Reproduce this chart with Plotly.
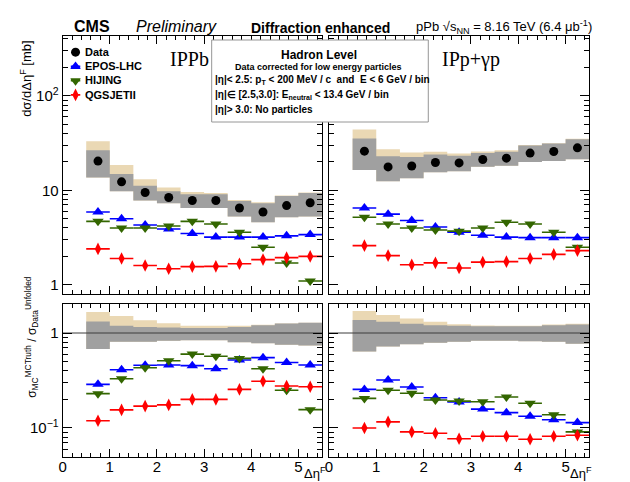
import math
import plotly.graph_objects as go

# ---------------- data ----------------
bin_lo = [0.5, 1.0, 1.5, 2.0, 2.5, 3.0, 3.5, 4.0, 4.5, 5.0]
bin_hi = [1.0, 1.5, 2.0, 2.5, 3.0, 3.5, 4.0, 4.5, 5.0, 5.5]
centers = [0.75, 1.25, 1.75, 2.25, 2.75, 3.25, 3.75, 4.25, 4.75, 5.25]

# IPPb (left)
L_data = [20.4, 12.3, 9.5, 8.4, 7.8, 7.8, 6.5, 5.9, 6.9, 7.4]
L_sys_lo = [13.7, 9.8, 7.8, 7.3, 6.5, 6.5, 5.3, 4.6, 5.2, 5.3]
L_sys_hi = [26.6, 14.9, 11.2, 9.8, 9.1, 9.1, 7.7, 7.3, 8.7, 9.4]
L_tan_hi = [33.0, 18.5, 13.1, 10.7, 9.6, 9.4, 7.9, 7.5, 8.8, 9.5]
L_epos = [5.9, 5.0, 4.3, 3.9, 3.5, 3.2, 3.2, 3.2, 3.3, 3.4]
L_hijing = [4.7, 4.0, 4.0, 4.2, 4.7, 4.4, 3.6, 2.5, 1.7, 1.1]
L_qgs = [2.4, 1.9, 1.6, 1.48, 1.56, 1.57, 1.67, 1.85, 1.94, 2.0]

# IPp+gamma p (right)
R_data = [26.0, 17.7, 18.1, 19.7, 19.5, 21.2, 21.9, 24.8, 25.8, 28.2]
R_sys_lo = [16.4, 12.5, 13.4, 15.5, 15.9, 17.8, 18.2, 20.0, 20.4, 21.4]
R_sys_hi = [35.4, 23.0, 22.6, 24.0, 23.2, 24.8, 25.6, 29.9, 31.3, 34.8]
R_tan_hi = [44.0, 27.3, 25.2, 25.6, 24.6, 25.8, 26.6, 30.2, 31.6, 35.2]
R_epos = [6.5, 5.6, 4.8, 4.1, 3.6, 3.35, 3.2, 3.16, 3.16, 3.16]
R_hijing = [5.2, 4.4, 4.0, 3.8, 3.7, 4.0, 4.6, 4.4, 3.6, 2.5]
R_qgs = [2.6, 2.04, 1.63, 1.71, 1.51, 1.74, 1.76, 1.9, 2.1, 2.3]

# ratios MC / data (left)
LR_sys_lo = [0.68, 0.81, 0.81, 0.83, 0.84, 0.84, 0.80, 0.78, 0.75, 0.74]
LR_sys_hi = [1.32, 1.19, 1.16, 1.14, 1.13, 1.13, 1.16, 1.21, 1.26, 1.28]
LR_tan_hi = [1.66, 1.51, 1.36, 1.27, 1.19, 1.19, 1.19, 1.22, 1.26, 1.28]
LR_epos = [0.288, 0.41, 0.457, 0.46, 0.453, 0.42, 0.52, 0.55, 0.49, 0.46]
LR_hijing = [0.23, 0.33, 0.43, 0.51, 0.60, 0.57, 0.54, 0.42, 0.25, 0.156]
LR_qgs = [0.119, 0.155, 0.17, 0.175, 0.20, 0.20, 0.255, 0.31, 0.277, 0.272]

# ratios MC / data (right)
RR_sys_lo = [0.64, 0.72, 0.76, 0.79, 0.81, 0.83, 0.83, 0.82, 0.81, 0.77]
RR_sys_hi = [1.37, 1.31, 1.25, 1.21, 1.19, 1.18, 1.18, 1.18, 1.21, 1.23]
RR_tan_hi = [1.70, 1.55, 1.42, 1.31, 1.24, 1.20, 1.19, 1.19, 1.23, 1.25]
RR_epos = [0.255, 0.32, 0.27, 0.208, 0.188, 0.158, 0.145, 0.133, 0.122, 0.114]
RR_hijing = [0.205, 0.25, 0.232, 0.197, 0.192, 0.189, 0.212, 0.182, 0.138, 0.091]
RR_qgs = [0.10, 0.116, 0.091, 0.088, 0.077, 0.082, 0.082, 0.076, 0.082, 0.084]

legend_names = ["Data", "EPOS-LHC", "HIJING", "QGSJETII"]

# ---------------- style ----------------
FONT = "Liberation Sans, Arial, Helvetica, sans-serif"
SERIF = "Liberation Serif, Times New Roman, serif"
C_GRAY = "rgb(160,160,160)"
C_TAN = "rgb(234,216,180)"
C_EPOS = "rgb(0,0,255)"
C_HIJ = "rgb(51,102,0)"
C_QGS = "rgb(255,0,0)"

STY = {
    "Data": dict(color="black", symbol="circle", size=9, bar=False),
    "EPOS-LHC": dict(color=C_EPOS, symbol="triangle-up", size=10, bar=True),
    "HIJING": dict(color=C_HIJ, symbol="triangle-down", size=10, bar=True),
    "QGSJETII": dict(color=C_QGS, symbol="diamond-tall", size=9, bar=True),
}

W, H = 630, 482
fig = go.Figure()


def band(lo, hi, color, xa, ya):
    xs, ys = [], []
    for x0, x1, a, b in zip(bin_lo, bin_hi, lo, hi):
        xs += [x0, x1, x1, x0, x0, None]
        ys += [a, a, b, b, a, None]
    fig.add_trace(go.Scatter(x=xs, y=ys, mode="lines", fill="toself",
                             fillcolor=color, line=dict(width=0, color=color),
                             hoverinfo="skip", showlegend=False,
                             xaxis=xa, yaxis=ya))


def series(xv, yv, name, xa, ya, half=0.25):
    s = STY[name]
    kw = {}
    if s["bar"]:
        kw["error_x"] = dict(type="constant", value=half, width=0, thickness=1.6,
                             color=s["color"])
    fig.add_trace(go.Scatter(
        x=xv, y=yv, mode="markers", name=name,
        marker=dict(symbol=s["symbol"], size=s["size"], color=s["color"], line=dict(width=0)),
        showlegend=False, xaxis=xa, yaxis=ya, **kw))


panels = [
    ("x", "y", L_sys_lo, L_sys_hi, L_tan_hi, L_data, L_epos, L_hijing, L_qgs),
    ("x2", "y2", R_sys_lo, R_sys_hi, R_tan_hi, R_data, R_epos, R_hijing, R_qgs),
]
for xa, ya, lo, hi, tan, d, e, hj, q in panels:
    band(lo, tan, C_TAN, xa, ya)
    band(lo, hi, C_GRAY, xa, ya)
    series(centers, d, "Data", xa, ya)
    series(centers, e, "EPOS-LHC", xa, ya)
    series(centers, hj, "HIJING", xa, ya)
    series(centers, q, "QGSJETII", xa, ya)

ratio_panels = [
    ("x3", "y3", LR_sys_lo, LR_sys_hi, LR_tan_hi, LR_epos, LR_hijing, LR_qgs),
    ("x4", "y4", RR_sys_lo, RR_sys_hi, RR_tan_hi, RR_epos, RR_hijing, RR_qgs),
]
for xa, ya, lo, hi, tan, e, hj, q in ratio_panels:
    band(lo, tan, C_TAN, xa, ya)
    band(lo, hi, C_GRAY, xa, ya)
    fig.add_trace(go.Scatter(x=[0, 5.5], y=[1, 1], mode="lines",
                             line=dict(color="rgb(60,60,60)", width=1),
                             hoverinfo="skip", showlegend=False, xaxis=xa, yaxis=ya))
    series(centers, e, "EPOS-LHC", xa, ya)
    series(centers, hj, "HIJING", xa, ya)
    series(centers, q, "QGSJETII", xa, ya)

# manual legend (ROOT-style compact rows) on its own hidden axis
for i, name in enumerate(legend_names):
    series([0.5], [i], name, "x5", "y5", half=0.5)


def px_x(p):
    return p / W


def px_y(p):
    return 1 - p / H


xdom_l = [px_x(59), px_x(320)]
xdom_r = [px_x(327), px_x(589)]
ydom_t = [px_y(294), px_y(36)]
ydom_b = [px_y(457), px_y(304)]

xminor = dict(ticks="inside", dtick=0.2, ticklen=4, tickcolor="black", showgrid=False)


def xaxis(dom, anchor, labels):
    return dict(domain=dom, anchor=anchor, range=[0, 5.5], showgrid=False, zeroline=False,
                showline=True, linecolor="black", linewidth=1, mirror="ticks",
                ticks="inside", ticklen=8, tickcolor="black", dtick=1, tick0=0,
                minor=xminor, showticklabels=labels, ticklabelstandoff=-4,
                tickfont=dict(family=FONT, size=15, color="black"))


top_minor = [v * m for v in [1, 10, 100] for m in range(2, 10)]
bot_minor = [0.05, 0.06, 0.07, 0.08, 0.09, 0.2, 0.3, 0.4, 0.5, 0.6, 0.7, 0.8, 0.9, 2.0]


def yaxis(dom, anchor, rng, tv, tt, minor_vals, labels):
    return dict(domain=dom, anchor=anchor, type="log", range=rng, showgrid=False,
                zeroline=False, showline=True, linecolor="black", linewidth=1,
                mirror="ticks", ticks="inside", ticklen=9, tickcolor="black",
                tickvals=tv, ticktext=tt, showticklabels=labels,
                minor=dict(ticks="inside", tickvals=minor_vals, ticklen=5,
                           tickcolor="black", showgrid=False),
                tickfont=dict(family=FONT, size=15, color="black"))


top_rng = [math.log10(0.8), math.log10(430)]
bot_rng = [math.log10(0.0495), math.log10(2.02)]

hidden = dict(visible=False, showgrid=False, zeroline=False, fixedrange=True)

fig.update_layout(
    width=W, height=H, margin=dict(l=0, r=0, t=0, b=0),
    paper_bgcolor="white", plot_bgcolor="white",
    font=dict(family=FONT, color="black"),
    showlegend=False,
    xaxis=xaxis(xdom_l, "y", False),
    xaxis2=xaxis(xdom_r, "y2", False),
    xaxis3=xaxis(xdom_l, "y3", True),
    xaxis4=xaxis(xdom_r, "y4", True),
    yaxis=yaxis(ydom_t, "x", top_rng, [1, 10, 100], ["1", "10", "10<sup>2</sup>"], top_minor, True),
    yaxis2=yaxis(ydom_t, "x2", top_rng, [1, 10, 100], ["1", "10", "10<sup>2</sup>"], top_minor, False),
    yaxis3=yaxis(ydom_b, "x3", bot_rng, [0.1, 1], ["10<sup>\u22121</sup>", "1"], bot_minor, True),
    yaxis4=yaxis(ydom_b, "x4", bot_rng, [0.1, 1], ["10<sup>\u22121</sup>", "1"], bot_minor, False),
    xaxis5=dict(domain=[px_x(67), px_x(77)], anchor="y5", range=[0, 1], **hidden),
    yaxis5=dict(domain=[px_y(102), px_y(45)], anchor="x5", range=[3.5, -0.5], **hidden),
)

# text box
fig.add_shape(type="rect", xref="paper", yref="paper",
              x0=px_x(209), x1=px_x(427), y0=px_y(122), y1=px_y(40),
              fillcolor="white", line=dict(color="rgb(150,150,150)", width=1), layer="above")


def ann(text, x, y, size, xanchor="left", yanchor="middle", bold=False, italic=False,
        family=FONT, angle=0):
    fig.add_annotation(text=text, x=px_x(x), y=px_y(y), xref="paper", yref="paper",
                       xanchor=xanchor, yanchor=yanchor, showarrow=False, textangle=angle,
                       font=dict(family=family, size=size, color="black",
                                 weight="bold" if bold else "normal",
                                 style="italic" if italic else "normal"))


# legend labels
for i, name in enumerate(legend_names):
    ann(name, 80, 52 + 14.25 * i, 11, bold=True)

ann("Hadron Level", 317, 55, 12, xanchor="center", bold=True)
ann("Data corrected for low energy particles", 317, 67, 9, xanchor="center", bold=True)
ann("|\u03b7|< 2.5: p<sub>T</sub> < 200 MeV / c  and  E < 6 GeV / bin", 210, 80, 10, bold=True)
ann("|\u03b7|\u2208 [2.5,3.0]: E<sub>neutral</sub> < 13.4 GeV / bin", 210, 95, 10, bold=True)
ann("|\u03b7|> 3.0: No particles", 210, 110, 10, bold=True)

ann("CMS", 68, 26, 16, bold=True)
ann("Preliminary", 131, 26, 16, italic=True)
ann("Diffraction enhanced", 247, 28, 14, bold=True)
ann("pPb \u221As<sub>NN</sub> = 8.16 TeV (6.4 \u03bcb<sup>-1</sup>)", 413, 27, 13)

ann("IPPb", 165, 59, 20, family=SERIF)
ann("IPp+\u03b3p", 439, 59, 20, family=SERIF)

ann("d\u03c3/d\u0394\u03b7<sup>F</sup> [mb]", 22, 79, 13, xanchor="center", angle=-90)
ann("\u03c3<sub>MC</sub><sup>MCTruth</sup> / \u03c3<sub>Data</sub><sup>Unfolded</sup>", 28, 337, 12,
    xanchor="center", angle=-90)
ann("\u0394\u03b7<sup>F</sup>", 300, 473, 13)
ann("\u0394\u03b7<sup>F</sup>", 568, 473, 13)

fig.write_html("out.html")
